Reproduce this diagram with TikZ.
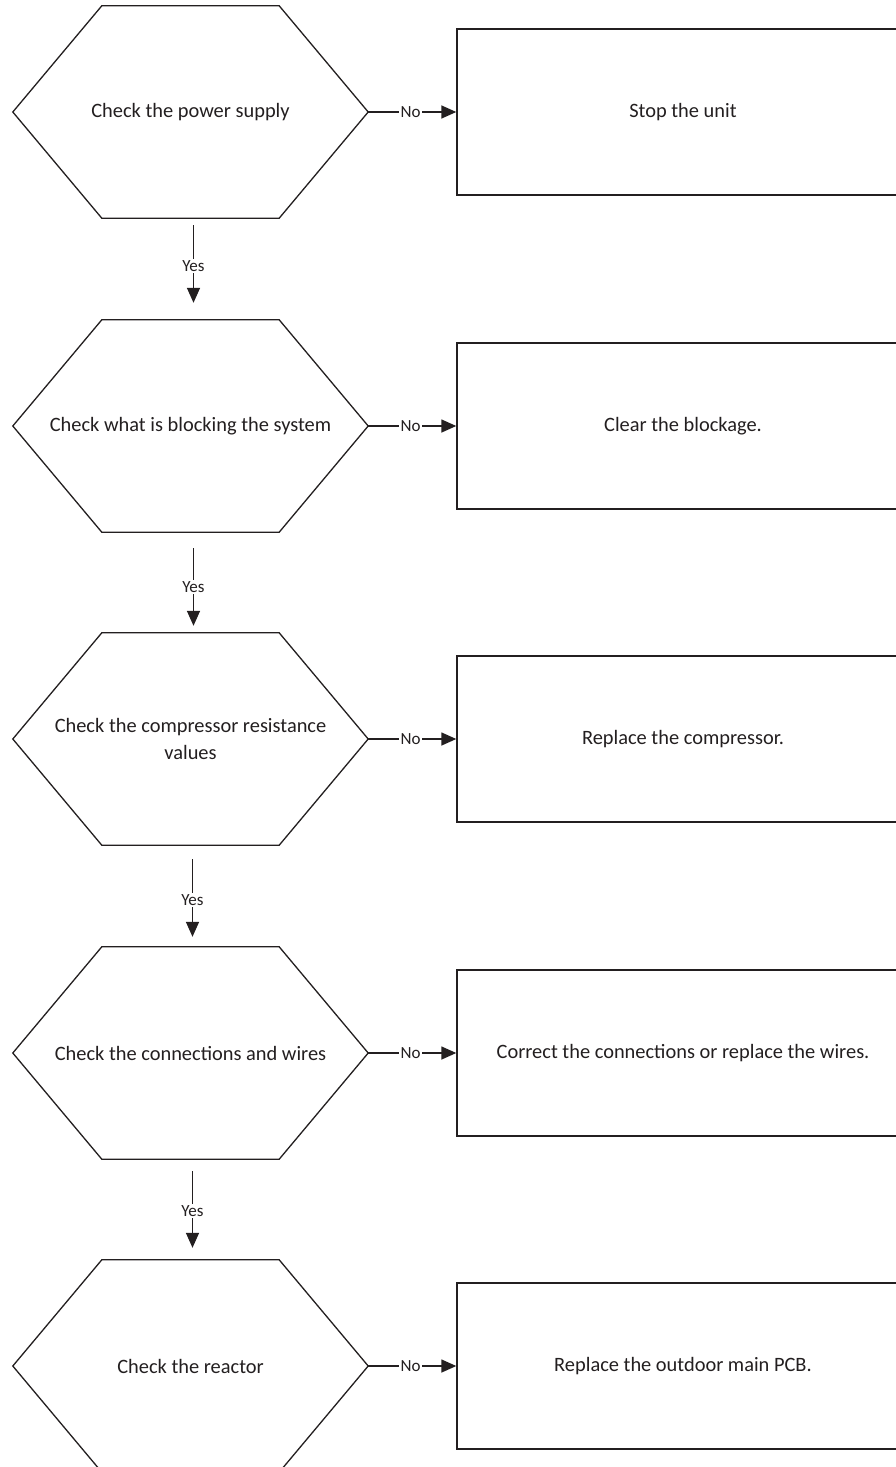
\documentclass[tikz,border=0pt]{standalone}
\usepackage{fontspec}
\setmainfont{Carlito}
\usetikzlibrary{arrows.meta}
\definecolor{ink}{HTML}{231F20}
\begin{document}
\begin{tikzpicture}[x=1pt,y=-1pt,
  hexbox/.style={minimum width=355pt, minimum height=212pt, inner sep=0pt, align=center,
    font=\fontsize{20.4}{27}\selectfont, text=ink},
  actbox/.style={draw=ink, line width=1.4pt, minimum width=452pt, minimum height=166pt,
    inner sep=0pt, align=center, font=\fontsize{20.4}{27}\selectfont, text=ink},
  hexline/.style={draw=ink, line width=1.3pt, line join=miter},
  flow/.style={draw=ink, line width=1.5pt, -{Triangle[length=15pt,width=13pt]}},
  lbl/.style={fill=white, inner sep=1.5pt, font=\fontsize{17}{19}\selectfont, text=ink}]
\useasboundingbox (0,0) rectangle (896,1467);
\clip (0,0) rectangle (896,1467);
\fill[white] (0,0) rectangle (896,1467);

% decision hexagons
\node[hexbox] (h1) at (190.5,112)  {Check the power supply};
\node[hexbox] (h2) at (190.5,426)  {Check what is blocking the system};
\node[hexbox] (h3) at (190.5,739)  {Check the compressor resistance\\values};
\node[hexbox] (h4) at (190.5,1053) {Check the connections and wires};
\node[hexbox] (h5) at (190.5,1366) {Check the reactor};

\foreach \n in {h1,h2,h3,h4,h5}{
  \draw[hexline] (\n.west) -- ([xshift=89pt]\n.north west) -- ([xshift=-89pt]\n.north east)
    -- (\n.east) -- ([xshift=-89pt]\n.south east) -- ([xshift=89pt]\n.south west) -- cycle;
}

% action boxes
\node[actbox] (r1) at (683,112)  {Stop the unit};
\node[actbox] (r2) at (683,426)  {Clear the blockage.};
\node[actbox] (r3) at (683,739)  {Replace the compressor.};
\node[actbox] (r4) at (683,1053) {Correct the connections or replace the wires.};
\node[actbox] (r5) at (683,1366) {Replace the outdoor main PCB.};

% No connectors
\foreach \i in {1,...,5}{
  \draw[flow] (h\i.east) -- node[lbl, pos=0.48] {No} (r\i.west);
}

% Yes connectors
\draw[flow, shorten <=7pt, shorten >=17pt] ([xshift=3pt]h1.south) -- node[lbl, pos=0.47] {Yes} ([xshift=3pt]h2.north);
\draw[flow, shorten <=16pt, shorten >=7pt] ([xshift=3pt]h2.south) -- node[lbl, pos=0.545] {Yes} ([xshift=3pt]h3.north);
\draw[flow, shorten <=14pt, shorten >=10pt] ([xshift=2pt]h3.south) -- node[lbl, pos=0.54] {Yes} ([xshift=2pt]h4.north);
\draw[flow, shorten <=12pt, shorten >=12pt] ([xshift=2pt]h4.south) -- node[lbl, pos=0.515] {Yes} ([xshift=2pt]h5.north);
\end{tikzpicture}
\end{document}
